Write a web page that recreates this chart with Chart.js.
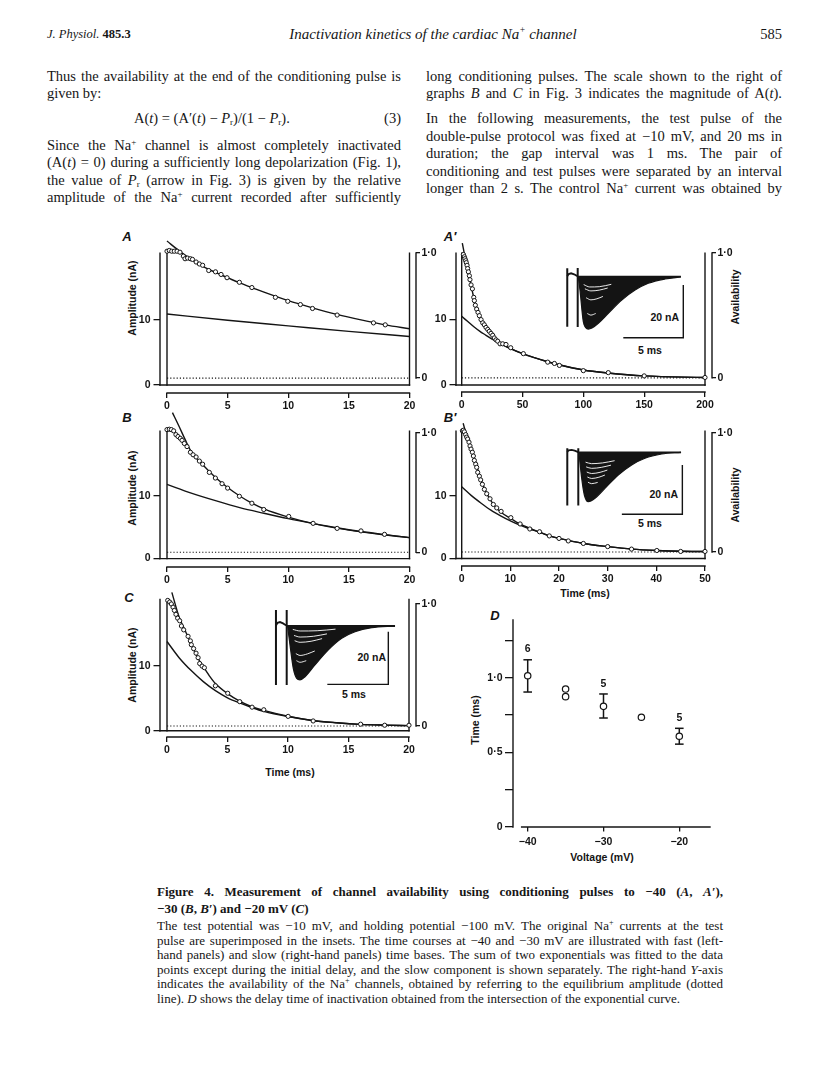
<!DOCTYPE html>
<html><head><meta charset="utf-8"><title>Figure 4 – Inactivation kinetics</title>
<script src="https://cdn.jsdelivr.net/npm/chart.js@4.4.1/dist/chart.umd.min.js"></script>
<style>
html,body{margin:0;padding:0;background:#fff}
body{position:relative;width:816px;height:1088px;overflow:hidden;font-family:'Liberation Serif','Times New Roman',serif;color:#161616}
.t,.j{position:absolute;white-space:nowrap;font-size:14.5px;line-height:18px}
.c{font-size:13px;line-height:16px}
sup{font-size:0.62em;vertical-align:0.6em;line-height:0}
sub{font-size:0.62em;vertical-align:-0.25em;line-height:0}
.s{position:absolute;white-space:nowrap;font-family:'Liberation Sans',Arial,sans-serif;font-size:10.5px;font-weight:bold;line-height:13px;color:#141414}
.rot{transform:translate(-50%,-50%) rotate(-90deg)}
.ctr{transform:translate(-50%,-50%)}
.rgt{transform:translate(-100%,-50%)}
.lab{font-style:italic;font-size:13px}
canvas{position:absolute}
</style></head><body>

<!-- running head -->
<div class="t" style="left:47px;top:25px;font-size:12.5px"><i>J. Physiol.</i> <b>485.3</b></div>
<div class="t" style="left:233px;width:400px;top:25px;text-align:center;font-size:15px;font-style:italic">Inactivation kinetics of the cardiac Na<sup>+</sup> channel</div>
<div class="t" style="right:34px;top:25px;font-size:14.5px">585</div>

<!-- left column -->
<div class="j" data-w="354" style="left:47px;top:67px">Thus the availability at the end of the conditioning pulse is</div>
<div class="t" style="left:47px;top:84px">given by:</div>
<div class="t" style="left:134px;top:109px">A(<i>t</i>) = (A′(<i>t</i>) − <i>P</i><sub>r</sub>)/(1 − <i>P</i><sub>r</sub>).</div>
<div class="t" style="right:415px;top:109px">(3)</div>
<div class="j" data-w="354" style="left:47px;top:136px">Since the Na<sup>+</sup> channel is almost completely inactivated</div>
<div class="j" data-w="354" style="left:47px;top:153px">(A(<i>t</i>) = 0) during a sufficiently long depolarization (Fig. 1),</div>
<div class="j" data-w="354" style="left:47px;top:171px">the value of <i>P</i><sub>r</sub> (arrow in Fig. 3) is given by the relative</div>
<div class="j" data-w="354" style="left:47px;top:188px">amplitude of the Na<sup>+</sup> current recorded after sufficiently</div>

<!-- right column -->
<div class="j" data-w="356" style="left:426px;top:67px">long conditioning pulses. The scale shown to the right of</div>
<div class="j" data-w="356" style="left:426px;top:84px">graphs <i>B</i> and <i>C</i> in Fig. 3 indicates the magnitude of A(<i>t</i>).</div>
<div class="j" data-w="356" style="left:426px;top:109px">In the following measurements, the test pulse of the</div>
<div class="j" data-w="356" style="left:426px;top:127px">double-pulse protocol was fixed at −10 mV, and 20 ms in</div>
<div class="j" data-w="356" style="left:426px;top:144px">duration; the gap interval was 1 ms. The pair of</div>
<div class="j" data-w="356" style="left:426px;top:162px">conditioning and test pulses were separated by an interval</div>
<div class="j" data-w="356" style="left:426px;top:179px">longer than 2 s. The control Na<sup>+</sup> current was obtained by</div>

<!-- panel letters -->
<div class="s lab ctr" style="left:127px;top:236px">A</div>
<div class="s lab ctr" style="left:450px;top:236px">A′</div>
<div class="s lab ctr" style="left:127px;top:417px">B</div>
<div class="s lab ctr" style="left:450px;top:417px">B′</div>
<div class="s lab ctr" style="left:129px;top:597px">C</div>
<div class="s lab ctr" style="left:495px;top:615px">D</div>

<!-- axis titles -->
<div class="s rot" style="left:132px;top:298px">Amplitude (nA)</div>
<div class="s rot" style="left:132px;top:488px">Amplitude (nA)</div>
<div class="s rot" style="left:132px;top:665px">Amplitude (nA)</div>
<div class="s rot" style="left:735px;top:297px">Availability</div>
<div class="s rot" style="left:735px;top:495px">Availability</div>
<div class="s ctr" style="left:585px;top:593px">Time (ms)</div>
<div class="s ctr" style="left:290px;top:772px">Time (ms)</div>
<div class="s rot" style="left:475px;top:720px">Time (ms)</div>
<div class="s ctr" style="left:602px;top:857px">Voltage (mV)</div>

<!-- inset scale-bar labels -->
<div class="s rgt" style="left:679px;top:317px">20 nA</div>
<div class="s ctr" style="left:650px;top:350px">5 ms</div>
<div class="s rgt" style="left:678px;top:494px">20 nA</div>
<div class="s ctr" style="left:650px;top:523px">5 ms</div>
<div class="s rgt" style="left:386px;top:657px">20 nA</div>
<div class="s ctr" style="left:354px;top:694px">5 ms</div>

<!-- caption -->
<div class="j c" data-w="566" style="left:157px;top:884px;font-weight:bold">Figure 4. Measurement of channel availability using conditioning pulses to −40 (<i>A</i>, <i>A′</i>),</div>
<div class="t c" style="left:157px;top:901px;font-weight:bold">−30 (<i>B</i>, <i>B′</i>) and −20 mV (<i>C</i>)</div>
<div class="j c" data-w="566" style="left:157px;top:918px">The test potential was −10 mV, and holding potential −100 mV. The original Na<sup>+</sup> currents at the test</div>
<div class="j c" data-w="566" style="left:157px;top:933px">pulse are superimposed in the insets. The time courses at −40 and −30 mV are illustrated with fast (left-</div>
<div class="j c" data-w="566" style="left:157px;top:947px">hand panels) and slow (right-hand panels) time bases. The sum of two exponentials was fitted to the data</div>
<div class="j c" data-w="566" style="left:157px;top:962px">points except during the initial delay, and the slow component is shown separately. The right-hand <i>Y</i>-axis</div>
<div class="j c" data-w="566" style="left:157px;top:976px">indicates the availability of the Na<sup>+</sup> channels, obtained by referring to the equilibrium amplitude (dotted</div>
<div class="t c" style="left:157px;top:991px">line). <i>D</i> shows the delay time of inactivation obtained from the intersection of the exponential curve.</div>

<script>
// ================= DATA =================
// tick values
const ampTicks = [0, 10];
const availTicks = [0, 1];
const fastTimeTicks = [0, 5, 10, 15, 20];
const slowTimeTicksA = [0, 50, 100, 150, 200];
const slowTimeTicksB = [0, 10, 20, 30, 40, 50];
const voltTicks = [-40, -30, -20];
const delayTicks = [0, 0.25, 0.5, 0.75, 1, 1.25];
const delayTickLabels = ['0', '', '0·5', '', '1·0', ''];

// A: −40 mV, fast time base (ms, nA)
const aTime = [0, 0.19, 0.39, 0.6, 0.83, 1.07, 1.35, 1.49, 1.7, 1.93, 2.1, 2.4, 2.67, 2.94, 3.44, 4.0, 4.46, 4.95, 5.97, 7.0, 8.94, 9.96, 11.0, 12.0, 14.03, 17.03, 18.0];
const aAmp = [20.45, 20.56, 20.45, 20.45, 20.45, 20.3, 19.7, 19.3, 19.4, 19.3, 19.2, 18.8, 18.5, 18.3, 17.5, 17.3, 16.9, 16.4, 15.7, 14.9, 13.4, 12.8, 12.3, 11.7, 10.7, 9.5, 9.2];
const aFitTime = [0, 1, 2, 3, 4, 5, 6, 7, 8, 10, 12, 14, 16, 18, 20];
const aFitAmp = [22.0, 20.5, 19.2, 18.1, 17.2, 16.4, 15.6, 14.9, 14.2, 12.9, 11.8, 10.8, 9.95, 9.2, 8.6];
const aSlowTime = [0, 5, 10, 15, 20];
const aSlowAmp = [10.86, 9.9, 9.05, 8.2, 7.42];
const aEquil = 1.06, aFull = 20.2;

// A′: −40 mV, slow time base
const apTime = [1.4, 2.2, 2.7, 3.3, 3.8, 4.4, 4.9, 5.5, 6.3, 6.8, 7.7, 8.8, 9.9, 10.4, 11.2, 12.3, 13.4, 14.5, 15.9, 17.3, 18.6, 20.0, 21.4, 22.7, 24.1, 25.5, 26.8, 28.2, 29.6, 31.5, 33.7, 36.4, 40.3, 50.7, 70.7, 76.2, 80.3, 100, 120.5, 150, 200];
const apAmp = [19.95, 19.6, 19.3, 19.0, 18.7, 18.3, 17.8, 17.3, 16.7, 16.1, 15.3, 14.7, 13.4, 12.9, 12.2, 11.6, 11.1, 10.6, 10.0, 9.5, 9.2, 8.8, 8.5, 8.2, 7.9, 7.6, 7.2, 6.9, 6.7, 6.3, 6.3, 6.2, 5.7, 4.8, 3.5, 3.3, 3.0, 2.2, 1.9, 1.4, 1.16];
const apFitTime = [0.5, 3, 6, 10, 15, 20, 25, 30, 40, 50, 70, 80, 100, 120, 150, 200];
const apFitAmp = [21.7, 19.3, 16.8, 13.3, 10.4, 8.8, 7.6, 6.7, 5.6, 4.8, 3.6, 3.1, 2.3, 1.85, 1.4, 1.15];
const apSlowTime = [0, 5, 10, 15, 20, 25, 30, 40, 50, 70, 80, 100, 120, 150, 200];
const apSlowAmp = [10.5, 9.7, 8.9, 8.2, 7.6, 7.0, 6.5, 5.55, 4.8, 3.6, 3.1, 2.3, 1.85, 1.4, 1.15];
const apEquil = 1.1, apFull = 20.2;

// B: −30 mV, fast time base
const bTime = [0, 0.19, 0.36, 0.55, 0.74, 0.91, 1.1, 1.24, 1.43, 1.65, 1.93, 2.15, 2.4, 2.67, 2.94, 3.49, 3.99, 4.54, 5.0, 5.97, 7.0, 7.98, 10.04, 12.05, 14.03, 16.0, 17.94];
const bAmp = [20.5, 20.56, 20.5, 20.3, 19.7, 19.4, 19.1, 18.8, 18.3, 17.8, 16.9, 16.5, 16.15, 15.5, 15.0, 13.7, 12.8, 11.9, 11.2, 9.9, 8.8, 7.8, 6.7, 5.6, 4.8, 4.4, 3.85];
const bFitTime = [0.45, 1, 1.5, 2, 2.5, 3, 4, 5, 6, 7, 8, 10, 12, 14, 16, 18, 20];
const bFitAmp = [23.2, 21.0, 18.9, 17.0, 15.8, 14.8, 12.9, 11.3, 9.95, 8.8, 7.9, 6.6, 5.6, 4.85, 4.25, 3.75, 3.33];
const bSlowTime = [0, 2, 4, 6, 8, 10, 12, 14, 16, 18, 20];
const bSlowAmp = [11.8, 10.4, 9.2, 8.1, 7.2, 6.35, 5.6, 4.9, 4.3, 3.8, 3.33];
const bEquil = 1.0, bFull = 20.0;

// B′: −30 mV, slow time base
const bpTime = [0.14, 0.34, 0.55, 0.82, 1.03, 1.23, 1.5, 1.71, 1.92, 2.19, 2.4, 2.6, 2.88, 3.08, 3.29, 3.63, 3.9, 4.25, 4.66, 5.14, 5.82, 6.5, 7.2, 8.1, 10.1, 12.0, 14.0, 16.0, 18.0, 20.0, 21.9, 25.0, 30.0, 34.9, 40.1, 45.0, 50];
const bpAmp = [20.3, 20.4, 20.15, 19.7, 19.3, 19.0, 18.5, 17.9, 17.4, 16.9, 16.3, 15.6, 15.0, 14.5, 13.7, 13.1, 12.5, 11.8, 11.0, 10.3, 9.5, 8.6, 8.05, 7.5, 6.5, 5.5, 4.7, 4.26, 3.6, 3.2, 2.8, 2.4, 1.9, 1.5, 1.28, 1.13, 1.13];
const bpFitTime = [0.3, 1, 2, 3, 4, 5, 6, 7, 8, 10, 12, 14, 16, 18, 20, 25, 30, 35, 40, 45, 50];
const bpFitAmp = [21.5, 19.6, 17.2, 14.9, 12.5, 10.6, 9.2, 8.15, 7.4, 6.4, 5.5, 4.8, 4.2, 3.6, 3.2, 2.4, 1.9, 1.5, 1.28, 1.15, 1.12];
const bpSlowTime = [0, 2, 4, 6, 8, 10, 12, 14, 16, 18, 20, 25, 30, 35, 40, 45, 50];
const bpSlowAmp = [11.4, 10.0, 8.8, 7.7, 6.8, 6.0, 5.3, 4.7, 4.2, 3.6, 3.2, 2.4, 1.9, 1.5, 1.28, 1.15, 1.12];
const bpEquil = 1.03, bpFull = 20.0;

// C: −20 mV, fast time base
const cTime = [0.06, 0.22, 0.36, 0.5, 0.61, 0.74, 0.88, 1.05, 1.19, 1.38, 1.74, 1.93, 2.01, 2.2, 2.4, 2.57, 2.7, 2.9, 3.09, 4.0, 5.02, 6.01, 7.03, 8.0, 10.01, 12.08, 16.0, 17.99, 20];
const cAmp = [20.15, 19.9, 19.6, 19.1, 18.6, 18.0, 17.4, 17.0, 16.2, 15.6, 14.6, 13.9, 13.3, 12.7, 12.0, 11.3, 10.4, 10.0, 9.75, 6.95, 5.8, 4.5, 3.65, 3.25, 2.23, 1.52, 1.02, 0.86, 0.86];
const cFitTime = [0.4, 1, 1.5, 2, 2.5, 3, 3.5, 4, 5, 6, 7, 8, 10, 12, 14, 16, 18, 20];
const cFitAmp = [21.4, 17.6, 15.5, 13.4, 11.4, 9.9, 8.5, 7.3, 5.75, 4.6, 3.75, 3.15, 2.25, 1.6, 1.25, 1.0, 0.88, 0.8];
const cSlowTime = [0, 1, 2, 3, 4, 5, 6, 7, 8, 10, 12, 14, 16, 18, 20];
const cSlowAmp = [13.8, 11.3, 9.3, 7.6, 6.2, 5.1, 4.3, 3.6, 3.0, 2.2, 1.6, 1.25, 1.0, 0.88, 0.8];
const cEquil = 0.74, cFull = 19.63;

// D: delay time of inactivation vs voltage
const dVoltage = [-40, -35, -35, -30, -25, -20];
const dDelay = [1.013, 0.924, 0.873, 0.808, 0.735, 0.608];
const dErrVoltage = [-40, -30, -20];
const dErrLow = [0.904, 0.730, 0.555];
const dErrHigh = [1.12, 0.891, 0.661];
const dCount = ['6', '5', '5'];

// Insets: superimposed Na+ currents (ms from test-pulse onset, nA)
const insAEnvT = [0.05, 0.19, 0.47, 0.69, 0.88, 1.19, 1.72, 2.55, 3.67, 4.78, 5.88, 7.28, 8.6];
const insAEnvI = [0, -5.1, -17.1, -19.5, -19.9, -19.5, -17.7, -13.9, -8.9, -5.1, -2.5, -0.87, -0.1];
const insAGapT = [-0.87, -0.75, -0.55, -0.3, -0.1, 0];
const insAGapI = [0.2, 1.0, 1.3, 0.9, 0.4, 0.2];
const insASpikeT = [-0.87, 0];
const insASpikeTop = [3.2, 3.3];
const insASpikeBot = [-19, -19.1];
const insAWhiteT = [0.5, 1.0, 1.8, 2.8, null, 0.6, 1.1, 1.8, 2.5, null, 0.7, 1.1, 1.6, 2.1, null, 0.8, 1.1, 1.5];
const insAWhiteI = [-3.0, -3.9, -3.8, -2.9, null, -4.6, -5.4, -5.1, -4.3, null, -8.0, -8.8, -8.4, -7.5, null, -14.0, -14.6, -14.0];
const insABarT = [3.8, 8.8, 8.8];
const insABarI = [-23.2, -23.2, -3.2];

const insBEnvT = [0.06, 0.28, 0.5, 0.83, 1.38, 2.2, 3.3, 4.41, 5.51, 6.89, 8.49];
const insBEnvI = [-0.4, -10.5, -17.3, -20.0, -18.6, -14.6, -9.2, -5.1, -2.4, -0.7, 0];
const insBGapT = [-0.91, -0.8, -0.55, -0.3, -0.1, 0];
const insBGapI = [0.1, 0.8, 1.0, 0.7, 0.3, 0.1];
const insBSpikeT = [-0.91, 0];
const insBSpikeTop = [1.6, 1.6];
const insBSpikeBot = [-21.5, -21.5];
const insBWhiteT = [0.6, 1.1, 2.0, 3.0, null, 0.65, 1.1, 1.9, 2.7, null, 0.7, 1.1, 1.8, 2.4, null, 0.75, 1.1, 1.7, 2.2, null, 0.8, 1.1, 1.6];
const insBWhiteI = [-4.0, -4.6, -4.3, -3.4, null, -5.9, -6.5, -6.1, -5.2, null, -8.0, -8.6, -8.1, -7.2, null, -10.0, -10.6, -10.1, -9.2, null, -12.1, -12.7, -12.2];
const insBBarT = [3.6, 8.6, 8.6];
const insBBarI = [-25.1, -25.1, -5.1];

const insCEnvT = [0.08, 0.27, 0.54, 0.82, 1.09, 1.5, 2.32, 3.41, 4.51, 5.6, 6.97, 8.88];
const insCEnvI = [-0.27, -7.2, -16.1, -19.9, -20.5, -19.3, -14.8, -9.1, -4.7, -2.2, -0.65, 0];
const insCGapT = [-0.88, -0.75, -0.55, -0.3, -0.1, 0];
const insCGapI = [0.2, 1.2, 1.5, 1.0, 0.4, 0.2];
const insCSpikeT = [-0.88, 0];
const insCSpikeTop = [6.1, 6.1];
const insCSpikeBot = [-22.4, -22.4];
const insCWhiteT = [0.5, 1.1, 2.5, 4.0, null, 0.6, 1.1, 2.2, 3.3, null, 0.65, 1.1, 2.0, 2.9, null, 0.75, 1.1, 1.7, 2.3, null, 0.8, 1.1, 1.6];
const insCWhiteI = [-1.3, -1.9, -1.8, -1.2, null, -3.6, -4.2, -3.9, -3.0, null, -5.6, -6.2, -5.8, -4.8, null, -10.5, -11.2, -10.6, -9.5, null, -13.2, -13.8, -13.2];
const insCBarT = [3.33, 8.33, 8.33];
const insCBarI = [-22.2, -22.2, -2.2];

// ================= RENDERING =================
const INK = '#141414';
Chart.defaults.font.family = "'Liberation Sans', Arial, sans-serif";
Chart.defaults.font.size = 10.5;
Chart.defaults.font.weight = 'bold';
Chart.defaults.color = INK;
Chart.defaults.animation = false;

const xy = (xs, ys) => xs.map((x, i) => ({ x: x, y: (x === null ? null : ys[i]) }));
const fmtNum = v => (v < 0 ? '\u2212' + Math.abs(v) : String(v));

function makeCanvas(x, y, w, h) {
  const c = document.createElement('canvas');
  c.width = w; c.height = h;
  c.style.cssText = `left:${x}px;top:${y}px;width:${w}px;height:${h}px`;
  document.body.appendChild(c);
  return c;
}

const framePlugin = {
  id: 'frame',
  beforeDatasetsDraw(chart, args, o) {
    if (!o || !o.segs) return;
    const ctx = chart.ctx, a = chart.chartArea;
    ctx.save();
    ctx.strokeStyle = INK; ctx.lineWidth = o.lw || 1.4; ctx.lineCap = 'square';
    for (const s of o.segs) {
      const xs = chart.scales.x, ys = chart.scales[s.y || 'y'];
      const px = v => v === 'L' ? a.left : v === 'R' ? a.right : xs.getPixelForValue(v);
      const py = v => v === 'B' ? a.bottom : v === 'T' ? a.top : ys.getPixelForValue(v);
      ctx.beginPath();
      ctx.moveTo(px(s.a[0]), py(s.a[1]));
      ctx.lineTo(px(s.b[0]), py(s.b[1]));
      ctx.stroke();
    }
    ctx.restore();
  }
};
const countPlugin = {
  id: 'counts',
  afterDatasetsDraw(chart, args, o) {
    if (!o || !o.xs) return;
    const ctx = chart.ctx;
    ctx.save();
    ctx.fillStyle = INK; ctx.font = "bold 10.5px 'Liberation Sans', Arial, sans-serif";
    ctx.textAlign = 'center'; ctx.textBaseline = 'bottom';
    o.xs.forEach((v, i) => {
      ctx.fillText(o.texts[i], chart.scales.x.getPixelForValue(v), chart.scales.y.getPixelForValue(o.ys[i]) - 5);
    });
    ctx.restore();
  }
};
Chart.register(framePlugin, countPlugin);

function ranges(g) {
  const { l, r, t, b } = g.area;
  const [[xv0, xp0], [xv1, xp1]] = g.xAnchors;
  const kx = (xp1 - xp0) / (xv1 - xv0);
  const [[yv0, yp0], [yv1, yp1]] = g.yAnchors;
  const ky = (yp0 - yp1) / (yv1 - yv0);
  return { xMin: xv0 - (xp0 - l) / kx, xMax: xv1 + (r - xp1) / kx,
           yMin: yv0 - (b - yp0) / ky, yMax: yv0 + (yp0 - t) / ky };
}

const tickGrid = len => ({ drawOnChartArea: false, drawTicks: true, tickLength: len, color: INK, lineWidth: 1.3 });

function timeCourse(g, d) {
  const [cx, cy, cw, ch] = g.canvas;
  const { l, r, t, b } = g.area;
  const R = ranges(g);
  const span = d.full - d.equil;
  const tEnd = d.xTicks[d.xTicks.length - 1];
  const line = { borderColor: INK, borderWidth: 1.4, pointRadius: 0, cubicInterpolationMode: 'monotone', fill: false, yAxisID: 'y', clip: false };
  new Chart(makeCanvas(cx, cy, cw, ch), {
    type: 'line',
    data: { datasets: [
      { data: xy(d.time, d.amp), showLine: false, pointRadius: 2.1, pointBackgroundColor: '#fff', pointBorderColor: INK, pointBorderWidth: 1, yAxisID: 'y', clip: false },
      Object.assign({ data: xy(d.fitT, d.fitA) }, line),
      Object.assign({ data: xy(d.slowT, d.slowA) }, line),
      { data: [{ x: 0, y: d.equil }, { x: tEnd, y: d.equil }], borderColor: INK, borderWidth: 1.1, borderDash: [1.2, 2], pointRadius: 0, yAxisID: 'y' }
    ] },
    options: {
      responsive: false, animation: false, events: [],
      layout: { padding: { top: t - cy, left: 0, right: 0, bottom: 0 } },
      plugins: { legend: { display: false }, tooltip: { enabled: false },
        frame: { segs: [
          { a: ['L', 0], b: ['L', g.axisTop] },
          { a: ['L', 0], b: [tEnd, 0] },
          { a: [0, 0], b: [0, g.axisTop] },
          { a: [tEnd, 0], b: [tEnd, g.axisTop] },
          { a: [0, 'B'], b: [tEnd, 'B'] },
          { y: 'y2', a: ['R', 0], b: ['R', 1] }
        ] } },
      scales: {
        x: { type: 'linear', position: 'bottom', min: R.xMin, max: R.xMax,
             afterBuildTicks: s => { s.ticks = d.xTicks.map(v => ({ value: v })); },
             afterFit: s => { s.height = cy + ch - b; },
             grid: tickGrid(5), border: { display: false },
             ticks: { padding: 2, autoSkip: false, maxRotation: 0, color: INK, callback: v => fmtNum(v) } },
        y: { type: 'linear', position: 'left', min: R.yMin, max: R.yMax,
             afterBuildTicks: s => { s.ticks = ampTicks.map(v => ({ value: v })); },
             afterFit: s => { s.width = l - cx; },
             grid: tickGrid(6.5), border: { display: false },
             ticks: { padding: 3, color: INK, callback: v => fmtNum(v) } },
        y2: { type: 'linear', position: 'right', min: (R.yMin - d.equil) / span, max: (R.yMax - d.equil) / span,
             afterBuildTicks: s => { s.ticks = availTicks.map(v => ({ value: v })); },
             afterFit: s => { s.width = cx + cw - r; },
             grid: tickGrid(4), border: { display: false },
             ticks: { padding: 1.5, color: INK, callback: v => (v === 1 ? '1·0' : '0') } }
      }
    }
  });
}

function inset(g, d) {
  const [cx, cy, cw, ch] = g.canvas;
  const xMin = (cx - g.t0) / g.pxPerMs, xMax = (cx + cw - g.t0) / g.pxPerMs;
  const yMax = (g.i0 - cy) / g.pxPerNa, yMin = -(cy + ch - g.i0) / g.pxPerNa;
  const seg = (data, color, w) => ({ data, borderColor: color, borderWidth: w, pointRadius: 0, fill: false, clip: false, spanGaps: false });
  const spikes = [];
  d.spikeT.forEach((s, i) => { spikes.push({ x: s, y: d.spikeTop[i] }, { x: s, y: d.spikeBot[i] }, { x: s, y: null }); });
  const endT = d.envT[d.envT.length - 1];
  new Chart(makeCanvas(cx, cy, cw, ch), {
    type: 'line',
    data: { datasets: [
      seg([{ x: 0, y: 0 }, { x: endT, y: 0 }], INK, 1.8),
      seg(spikes, INK, 2),
      seg(xy(d.gapT, d.gapI), INK, 1.8),
      seg(xy(d.barT, d.barI), INK, 1.4),
      Object.assign(seg(xy(d.whiteT, d.whiteI), '#fff', 0.9), { cubicInterpolationMode: 'monotone' }),
      { data: xy(d.envT, d.envI), borderColor: INK, borderWidth: 1.2, backgroundColor: INK, fill: 'origin', pointRadius: 0, cubicInterpolationMode: 'monotone', clip: false }
    ] },
    options: {
      responsive: false, animation: false, events: [],
      layout: { padding: 0 },
      plugins: { legend: { display: false }, tooltip: { enabled: false } },
      scales: { x: { type: 'linear', display: false, min: xMin, max: xMax },
                y: { type: 'linear', display: false, min: yMin, max: yMax } }
    }
  });
}

// ---- panel A / A′ / B / B′ / C ----
timeCourse({ canvas: [100, 228, 340, 190], area: { l: 160, r: 416, t: 236, b: 393 },
             xAnchors: [[0, 167], [20, 409.5]], yAnchors: [[0, 385], [10, 319]], axisTop: 20.15 },
           { time: aTime, amp: aAmp, fitT: aFitTime, fitA: aFitAmp, slowT: aSlowTime, slowA: aSlowAmp, equil: aEquil, full: aFull, xTicks: fastTimeTicks });
timeCourse({ canvas: [400, 228, 360, 190], area: { l: 456, r: 712, t: 236, b: 392 },
             xAnchors: [[0, 461.7], [200, 705]], yAnchors: [[0, 385], [10, 319]], axisTop: 20.15 },
           { time: apTime, amp: apAmp, fitT: apFitTime, fitA: apFitAmp, slowT: apSlowTime, slowA: apSlowAmp, equil: apEquil, full: apFull, xTicks: slowTimeTicksA });
timeCourse({ canvas: [100, 398, 340, 197], area: { l: 160, r: 416, t: 402, b: 567 },
             xAnchors: [[0, 167], [20, 409.5]], yAnchors: [[0, 558.3], [10, 493.3]], axisTop: 20.25 },
           { time: bTime, amp: bAmp, fitT: bFitTime, fitA: bFitAmp, slowT: bSlowTime, slowA: bSlowAmp, equil: bEquil, full: bFull, xTicks: fastTimeTicks });
timeCourse({ canvas: [400, 398, 360, 197], area: { l: 456, r: 712, t: 402, b: 566 },
             xAnchors: [[0, 461.7], [50, 705]], yAnchors: [[0, 558.3], [10, 493.3]], axisTop: 20.25 },
           { time: bpTime, amp: bpAmp, fitT: bpFitTime, fitA: bpFitAmp, slowT: bpSlowTime, slowA: bpSlowAmp, equil: bpEquil, full: bpFull, xTicks: slowTimeTicksB });
timeCourse({ canvas: [100, 578, 340, 182], area: { l: 160, r: 416, t: 585, b: 737 },
             xAnchors: [[0, 167], [20, 409]], yAnchors: [[0, 730.7], [10, 665]], axisTop: 20.3 },
           { time: cTime, amp: cAmp, fitT: cFitTime, fitA: cFitAmp, slowT: cSlowTime, slowA: cSlowAmp, equil: cEquil, full: cFull, xTicks: fastTimeTicks });

// ---- insets ----
inset({ canvas: [560, 262, 130, 85], t0: 577.7, pxPerMs: 12, i0: 276.7, pxPerNa: 2.63 },
      { envT: insAEnvT, envI: insAEnvI, gapT: insAGapT, gapI: insAGapI, spikeT: insASpikeT, spikeTop: insASpikeTop, spikeBot: insASpikeBot, whiteT: insAWhiteT, whiteI: insAWhiteI, barT: insABarT, barI: insABarI });
inset({ canvas: [560, 440, 130, 80], t0: 578.3, pxPerMs: 12.1, i0: 452.3, pxPerNa: 2.47 },
      { envT: insBEnvT, envI: insBEnvI, gapT: insBGapT, gapI: insBGapI, spikeT: insBSpikeT, spikeTop: insBSpikeTop, spikeBot: insBSpikeBot, whiteT: insBWhiteT, whiteI: insBWhiteI, barT: insBBarT, barI: insBBarI });
inset({ canvas: [268, 600, 128, 90], t0: 286.7, pxPerMs: 12.2, i0: 626, pxPerNa: 2.63 },
      { envT: insCEnvT, envI: insCEnvI, gapT: insCGapT, gapI: insCGapI, spikeT: insCSpikeT, spikeTop: insCSpikeTop, spikeBot: insCSpikeBot, whiteT: insCWhiteT, whiteI: insCWhiteI, barT: insCBarT, barI: insCBarI });

// ---- panel D ----
(function () {
  const g = { canvas: [440, 600, 300, 270], area: { l: 513, r: 710, t: 615, b: 827 },
              xAnchors: [[-40, 527.7], [-20, 679.3]], yAnchors: [[0, 827], [1, 677.7]] };
  const [cx, cy, cw, ch] = g.canvas;
  const { l, r, t, b } = g.area;
  const R = ranges(g);
  const err = [];
  dErrVoltage.forEach((v, i) => { err.push({ x: v, y: dErrLow[i] }, { x: v, y: dErrHigh[i] }, { x: v, y: null }); });
  new Chart(makeCanvas(cx, cy, cw, ch), {
    type: 'line',
    data: { datasets: [
      { data: xy(dVoltage, dDelay), showLine: false, pointRadius: 3.2, pointBackgroundColor: '#fff', pointBorderColor: INK, pointBorderWidth: 1.2 },
      { data: err, borderColor: INK, borderWidth: 1.5, pointStyle: 'line', pointRadius: 4.3, pointBorderColor: INK, pointBorderWidth: 1.5, spanGaps: false }
    ] },
    options: {
      responsive: false, animation: false, events: [],
      layout: { padding: { top: t - cy, left: 0, right: cx + cw - r, bottom: 0 } },
      plugins: { legend: { display: false }, tooltip: { enabled: false },
        frame: { segs: [ { a: ['L', 0], b: ['L', 1.386] }, { a: [-40.8, 'B'], b: ['R', 'B'] } ] },
        counts: { xs: dErrVoltage, ys: dErrHigh, texts: dCount } },
      scales: {
        x: { type: 'linear', position: 'bottom', min: R.xMin, max: R.xMax,
             afterBuildTicks: s => { s.ticks = voltTicks.map(v => ({ value: v })); },
             afterFit: s => { s.height = cy + ch - b; },
             grid: tickGrid(4.5), border: { display: false },
             ticks: { padding: 4, autoSkip: false, maxRotation: 0, color: INK, callback: v => fmtNum(v) } },
        y: { type: 'linear', position: 'left', min: R.yMin, max: R.yMax,
             afterBuildTicks: s => { s.ticks = delayTicks.map(v => ({ value: v })); },
             afterFit: s => { s.width = l - cx; },
             grid: tickGrid(8), border: { display: false },
             ticks: { padding: 2.5, color: INK, callback: (v, i) => delayTickLabels[i] } }
      }
    }
  });
})();

// ---- justify text lines to their column width ----
document.querySelectorAll('.j').forEach(el => {
  const target = parseFloat(el.dataset.w);
  const w = el.getBoundingClientRect().width;
  const n = (el.textContent.match(/ /g) || []).length;
  let ws = (target - w) / Math.max(n, 1);
  if (ws < -1.5) {
    el.style.letterSpacing = ((target - w + 1.5 * n) / el.textContent.length) + 'px';
    ws = -1.5;
  }
  el.style.wordSpacing = ws + 'px';
});
</script>
</body></html>
